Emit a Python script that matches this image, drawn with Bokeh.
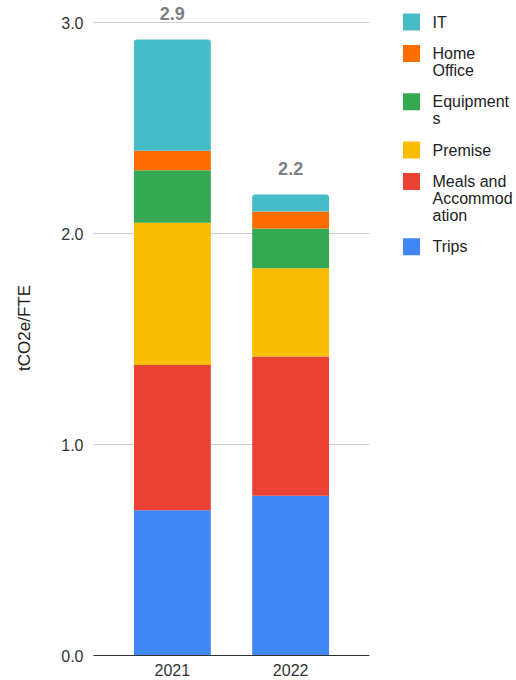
from bokeh.plotting import figure
from bokeh.models import ColumnDataSource, FactorRange, Range1d, FixedTicker, PrintfTickFormatter
from bokeh.layouts import row
from bokeh.core.properties import value
from bokeh.embed import file_html
from bokeh.resources import INLINE

# Emissions per full-time employee (tCO2e/FTE), stacked by category
years = ["2021", "2022"]
categories = ["Trips", "Meals and Accommodation", "Premise", "Equipments", "Home Office", "IT"]
trips = [0.689, 0.757]
meals = [0.689, 0.661]
premise = [0.674, 0.418]
equipments = [0.249, 0.189]
home_office = [0.093, 0.080]
it = [0.527, 0.081]
colors = ["#4285F4", "#EA4335", "#FBBC04", "#34A853", "#FF6D01", "#46BDC6"]

# Legend entries, top to bottom, wrapped as they are shown
legend_labels = ["IT", "Home\nOffice", "Equipment\ns", "Premise", "Meals and\nAccommod\nation", "Trips"]
legend_colors = ["#46BDC6", "#FF6D01", "#34A853", "#FBBC04", "#EA4335", "#4285F4"]

y_ticks = [0, 1, 2, 3]
y_title = "tCO2e/FTE"

FONT = "Liberation Sans"
Y_MAX = 3.106          # frame top sits a little above the 3.0 gridline
FRAME_H = 655          # frame height in px (0 .. 655)

series = [trips, meals, premise, equipments, home_office, it]
data = {"year": years}
for name, vals in zip(categories, series):
    data[name] = vals
source = ColumnDataSource(data)

totals = [sum(v) for v in zip(*series)]
total_src = ColumnDataSource(dict(year=years, total=totals,
                                  label=["%.1f" % t for t in totals]))

p = figure(x_range=FactorRange(*years, range_padding=0.167, range_padding_units="absolute"),
           y_range=Range1d(0, Y_MAX),
           width=380, height=680, output_backend="svg", toolbar_location=None,
           min_border_left=93, min_border_right=11, min_border_top=0, min_border_bottom=25)
p.outline_line_color = None
p.background_fill_color = "white"
p.border_fill_color = "white"

renderers = p.vbar_stack(categories, x="year", width=0.65, color=colors, line_color=None, source=source)
renderers[-1].glyph.border_radius = (3, 3, 0, 0)

p.text(x="year", y="total", text="label", source=total_src, text_align="center",
       text_baseline="middle", y_offset=-26, text_font=value(FONT), text_font_size="18px",
       text_font_style="bold", text_color="#808080")

p.xgrid.grid_line_color = None
p.ygrid.grid_line_color = "#cccccc"
p.ygrid.ticker = FixedTicker(ticks=y_ticks)

# y axis limited to the 0..3 span so its title is centred on it
p.yaxis.bounds = (y_ticks[0], y_ticks[-1])
p.yaxis.ticker = FixedTicker(ticks=y_ticks)
p.yaxis.formatter = PrintfTickFormatter(format="%.1f")
p.yaxis.axis_line_color = None
p.yaxis.major_tick_line_color = None
p.yaxis.minor_tick_line_color = None
p.yaxis.major_tick_out = 0
p.yaxis.major_label_standoff = 10
p.yaxis.major_label_text_font = FONT
p.yaxis.major_label_text_font_size = "16px"
p.yaxis.major_label_text_color = "#333333"
p.yaxis.axis_label = y_title
p.yaxis.axis_label_text_font = FONT
p.yaxis.axis_label_text_font_size = "17px"
p.yaxis.axis_label_text_font_style = "normal"
p.yaxis.axis_label_text_color = "#222222"
p.yaxis.axis_label_standoff = 24

p.xaxis.axis_line_color = "#333333"
p.xaxis.major_tick_line_color = None
p.xaxis.minor_tick_line_color = None
p.xaxis.major_tick_out = 0
p.xaxis.major_label_standoff = 8
p.xaxis.major_label_text_font = FONT
p.xaxis.major_label_text_font_size = "16px"
p.xaxis.major_label_text_color = "#333333"

# Legend panel drawn in pixel-like coordinates (its frame lines up with the chart frame)
lg = figure(x_range=Range1d(0, 136), y_range=Range1d(FRAME_H, 0), width=136, height=680,
            output_backend="svg", toolbar_location=None,
            x_axis_location=None, y_axis_location=None,
            min_border_left=0, min_border_right=0, min_border_top=0, min_border_bottom=0)
lg.grid.visible = False
lg.outline_line_color = None

sq_y, txt_x, txt_y, txt = [], [], [], []
y = 21.5
for lab in legend_labels:
    lines = lab.split("\n")
    sq_y.append(y)
    for i, ln in enumerate(lines):
        txt_x.append(52)
        txt_y.append(y + 16.8 * i)
        txt.append(ln)
    y += 16.8 * (len(lines) - 1) + 31.5

lg.rect(x=[31] * len(sq_y), y=sq_y, width=17, height=17, fill_color=legend_colors, line_color=None)
lg.text(x=txt_x, y=txt_y, text=txt, text_baseline="middle", text_align="left",
        text_font=value(FONT), text_font_size="16px", text_color="#222222")

layout = row(p, lg)
open("out.html", "w").write(file_html(layout, INLINE))
